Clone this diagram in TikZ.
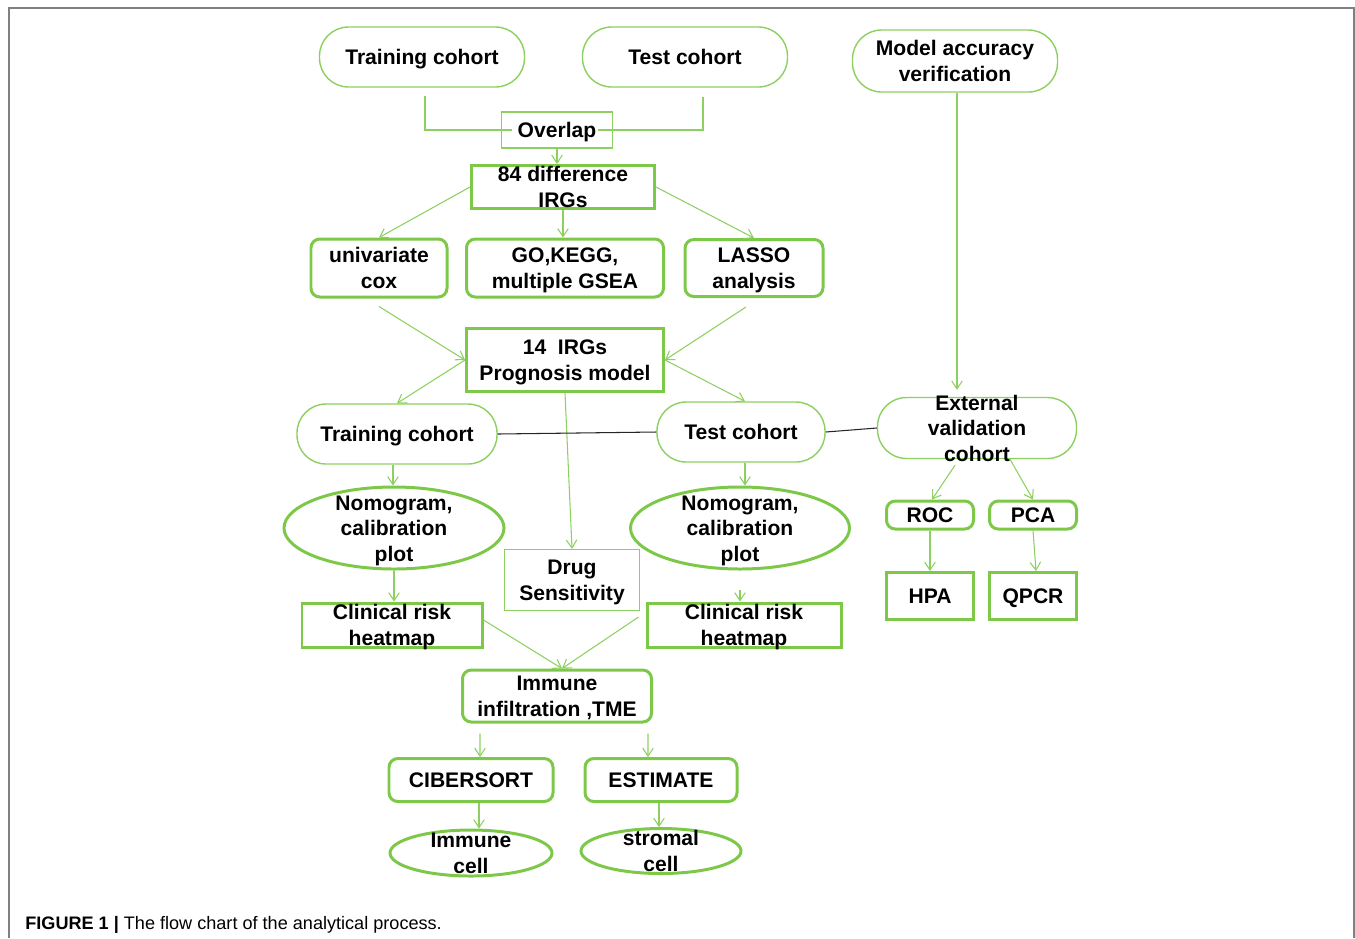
\documentclass[tikz,border=0pt]{standalone}
\usepackage{fontspec}
\setmainfont{Liberation Sans}
\usepackage{tikz}
\usetikzlibrary{shapes.geometric,arrows.meta}
\definecolor{boxgreen}{RGB}{125,200,72}
\definecolor{linegreen}{RGB}{140,208,95}
\definecolor{framegray}{RGB}{128,128,128}
\newcommand{\celltext}[1]{\smash{\raisebox{-4.4pt}{\begin{tabular}{@{}c@{}}#1\end{tabular}}}}

\begin{document}
\begin{tikzpicture}[x=0.02cm,y=-0.02cm,
    every node/.style={inner sep=0pt,font=\fontsize{12}{14.5}\selectfont\bfseries},
    wh/.style 2 args={minimum width=#1*0.02cm,minimum height=#2*0.02cm},
    pill/.style={draw=linegreen,line width=0.8pt,rounded corners=0.58cm},
    thick box/.style={draw=boxgreen,line width=1.7pt},
    thick round/.style={thick box,rounded corners=5pt},
    thin box/.style={draw=linegreen,line width=0.8pt},
    oval/.style={ellipse,draw=boxgreen,line width=1.7pt},
    arr/.style={draw=linegreen,line width=0.6pt,arrows={-Straight Barb[length=4.5pt,width=6pt]}},
    link/.style={draw=linegreen,line width=0.8pt},
    blackline/.style={draw=black!85,line width=0.6pt}]

	\useasboundingbox (0,0) rectangle (1355,938);
	\draw[framegray,line width=1pt] (9,938) -- (9,8) -- (1354,8) -- (1354,938);

	\node[pill,wh={205}{60}] (train1) at (422,57) {\celltext{Training cohort}};
	\node[pill,wh={205}{60}] (test1) at (685,57) {\celltext{Test cohort}};
	\node[pill,wh={205}{62}] (model) at (955,61) {\celltext{Model accuracy\\verification}};
	\node[thin box,wh={111}{36}] (overlap) at (557,130) {\celltext{Overlap}};
	\node[thick box,wh={183}{43}] (d84) at (563,187) {\celltext{84 difference\\IRGs}};
	\node[thick round,wh={136}{58}] (uni) at (379,268) {\celltext{univariate\\cox}};
	\node[thick round,wh={197}{58}] (go) at (565,268) {\celltext{GO,KEGG,\\multiple GSEA}};
	\node[thick round,wh={138}{57}] (lasso) at (754,268) {\celltext{LASSO\\analysis}};
	\node[thick box,wh={197}{63}] (m14) at (565,360) {\celltext{14~~IRGs\\Prognosis model}};
	\node[pill,wh={200}{60}] (train2) at (397,434) {\celltext{Training cohort}};
	\node[pill,wh={168}{60}] (test2) at (741,432) {\celltext{Test cohort}};
	\node[pill,wh={199}{61}] (ext) at (977,428) {\celltext{External\\validation\\cohort}};
	\node[oval,wh={220}{82}] (nomo1) at (394,528) {\celltext{Nomogram,\\calibration\\plot}};
	\node[oval,wh={219}{82}] (nomo2) at (740,528) {\celltext{Nomogram,\\calibration\\plot}};
	\node[thin box,wh={135}{61}] (drug) at (572,580) {\celltext{Drug\\Sensitivity}};
	\node[thick box,wh={180}{44}] (clin1) at (392,625) {\celltext{Clinical risk\\heatmap}};
	\node[thick box,wh={194}{44}] (clin2) at (744,625) {\celltext{Clinical risk\\heatmap}};
	\node[thick round,wh={189}{52}] (tme) at (557,696) {\celltext{Immune\\infiltration ,TME}};
	\node[thick round,wh={164}{43}] (cib) at (471,780) {\celltext{CIBERSORT}};
	\node[thick round,wh={152}{43}] (est) at (661,780) {\celltext{ESTIMATE}};
	\node[oval,wh={162}{46}] (immcell) at (471,853) {\celltext{Immune\\cell}};
	\node[oval,wh={160}{45}] (stromal) at (661,851) {\celltext{stromal\\cell}};
	\node[thick round,wh={87}{28}] (roc) at (930,515) {\celltext{ROC}};
	\node[thick round,wh={87}{28}] (pca) at (1033,515) {\celltext{PCA}};
	\node[thick box,wh={87}{47}] (hpa) at (930,596) {\celltext{HPA}};
	\node[thick box,wh={87}{47}] (qpcr) at (1033,596) {\celltext{QPCR}};
	\coordinate (exttop) at ([yshift=0.14cm]ext.north);

	\draw[link] ([shift={(3,8)}]train1.south) |- ([xshift=0.22cm]overlap.west);
	\draw[link] ([shift={(18,9)}]test1.south) |- ([xshift=-0.3cm]overlap.east);
	\draw[arr] (overlap.south) -- (overlap.south |- d84.north);
	\draw[arr] (d84.west) -- (uni.north);
	\draw[arr] (d84.south) -- (d84.south |- go.north);
	\draw[arr] (d84.east) -- (lasso.north);
	\draw[arr] ([yshift=-0.16cm]uni.south) -- (m14.west);
	\draw[arr] ([shift={(-8,9)}]lasso.south) -- (m14.east);
	\draw[arr] (m14.west) -- (train2.north);
	\draw[arr] (m14.east) -- ([xshift=0.08cm]test2.north);
	\draw[arr] (m14.south) -- (drug.north);
	\draw[arr] ([xshift=0.04cm]model.south) -- ([xshift=0.04cm]model.south |- exttop);
	\draw[blackline] (train2.east) -- (test2.west);
	\draw[blackline] (test2.east) -- (ext.west);
	\draw[arr] ([xshift=-0.08cm]train2.south) -- ([xshift=-0.08cm]train2.south |- nomo1.north);
	\draw[arr] ([xshift=0.08cm]test2.south) -- ([xshift=0.08cm]test2.south |- nomo2.north);
	\draw[arr] (nomo1.south) -- (nomo1.south |- clin1.north);
	\draw[arr] ([yshift=-0.38cm]nomo2.south) -- (nomo2.south |- clin2.north);
	\draw[arr] ([yshift=0.1cm]clin1.east) -- ([xshift=0.1cm]tme.north);
	\draw[arr] ([shift={(-7,-8)}]clin2.west) -- ([xshift=0.1cm]tme.north);
	\draw[arr] ([shift={(-77,10)}]tme.south) -- ([xshift=0.18cm]cib.north);
	\draw[arr] ([shift={(91,10)}]tme.south) -- ([xshift=-0.26cm]est.north);
	\draw[arr] ([xshift=0.16cm]cib.south) -- ([xshift=0.16cm]immcell.north);
	\draw[arr] ([xshift=-0.04cm]est.south) -- ([xshift=-0.04cm]stromal.north);
	\draw[arr] ([shift={(-22,6)}]ext.south) -- ([xshift=0.04cm]roc.north);
	\draw[arr] ([shift={(33,0)}]ext.south) -- (pca.north);
	\draw[arr] (roc.south) -- (hpa.north);
	\draw[arr] (pca.south) -- ([xshift=0.06cm]qpcr.north);

	\node[anchor=base west,font=\fontsize{10.3}{12}\selectfont] (caption) at (25,929) {\textbf{FIGURE 1 |} The flow chart of the analytical process.};
\end{tikzpicture}
\end{document}
